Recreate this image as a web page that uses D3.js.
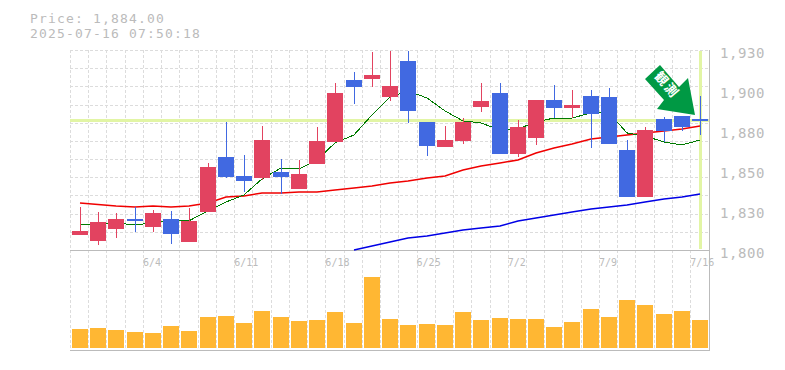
<!DOCTYPE html>
<html>
<head>
<meta charset="utf-8">
<script src="https://cdn.jsdelivr.net/npm/d3@7"></script>
<style>
body { margin: 0; background: #fff; }
svg { display: block; }
text { font-family: "DejaVu Sans Mono", monospace; fill: #bbb; }
</style>
</head>
<body>
<div id="chart-area"></div>
<script>
// Data
var titleLines = ["Price: 1,884.00", "2025-07-16 07:50:18"];
var lastPrice = 1884;
var dates = ["5/29","5/30","6/2","6/3","6/4","6/5","6/6","6/9","6/10","6/11","6/12","6/13","6/16","6/17","6/18","6/19","6/20",
    "6/23","6/24","6/25","6/26","6/27","6/30","7/1","7/2","7/3","7/4","7/7","7/8","7/9","7/10","7/11","7/14","7/15","7/16"];
var dateTicks = ["6/4","6/11","6/18","6/25","7/2","7/9","7/16"];
var priceTicks = [1930,1904,1878,1852,1826,1800];
var priceLabels = ["1,930","1,900","1,880","1,850","1,830","1,800"];

var open = [1809.8,1805.9,1813.7,1820.2,1815.0,1820.2,1805.2,1824.7,1860.5,1848.1,1846.8,1850.7,1839.7,1855.9,1870.2,1910.5,1911.2,
    1899.5,1922.9,1883.2,1867.0,1870.9,1893.0,1902.1,1862.4,1872.8,1897.5,1892.3,1900.1,1899.5,1865.0,1834.5,1885.2,1887.1,1885.2];
var high = [1828.0,1824.7,1824.1,1828.0,1826.0,1825.4,1827.3,1856.6,1883.2,1861.8,1880.6,1859.2,1858.5,1880.0,1908.6,1915.7,1928.7,
    1929.4,1929.4,1883.2,1880.6,1885.8,1908.6,1908.6,1884.5,1897.5,1907.3,1904.0,1904.0,1905.3,1871.5,1880.0,1886.5,1887.1,1900.1];
var low = [1809.8,1803.3,1807.8,1811.7,1811.7,1803.9,1805.2,1824.7,1846.8,1837.7,1845.5,1836.4,1839.7,1855.9,1870.2,1894.9,1906.0,
    1896.9,1882.6,1861.1,1867.0,1868.9,1889.7,1862.4,1860.5,1868.3,1885.8,1885.8,1866.3,1868.9,1834.5,1834.5,1870.2,1877.4,1874.8];
var close = [1812.4,1818.2,1820.2,1818.9,1824.1,1810.4,1818.9,1854.0,1847.5,1844.9,1871.5,1847.5,1849.4,1870.9,1902.1,1906.0,1913.8,
    1906.6,1890.4,1867.6,1871.5,1883.2,1896.9,1862.4,1880.0,1897.5,1892.3,1894.3,1888.4,1868.9,1834.5,1878.0,1877.4,1880.0,1883.9];
var volume = [19,20,18,16,15,22,17,31,32,25,37,31,27,28,36,25,71,29,23,24,23,36,28,30,29,29,21,26,39,31,48,43,34,37,28];

// moving averages
var maShort = [1816.3,1816.9,1817.6,1816.3,1817.6,1819.5,1819.0,1825.4,1831.2,1835.8,1846.2,1853.3,1852.7,1858.5,1869.6,1874.8,1887.8,
    1899.5,1903.4,1898.8,1890.4,1883.9,1882.6,1878.0,1878.7,1883.2,1885.8,1885.8,1889.1,1889.1,1876.1,1874.1,1870.2,1868.3,1871.5];
var maMid = [1830.6,1829.6,1828.6,1828.0,1828.6,1828.0,1828.6,1830.6,1834.5,1835.1,1837.1,1837.1,1837.7,1837.7,1839.0,1840.3,1841.6,
    1843.6,1844.9,1846.8,1848.1,1852.0,1854.6,1856.6,1858.5,1863.0,1866.3,1868.9,1872.2,1873.5,1874.8,1876.1,1877.4,1878.7,1880.6];
var maLong = [null,null,null,null,null,null,null,null,null,null,null,null,null,null,null,1800.0,1802.6,
    1805.2,1807.8,1809.1,1811.1,1813.0,1814.3,1815.6,1818.9,1820.8,1822.8,1824.7,1826.7,1828.0,1829.3,1831.2,1833.2,1834.5,1836.4];

var W = 785, H = 370;
var left = 70, right = 710, priceTop = 50, priceBottom = 250, volBottom = 350;

var svg = d3.select("#chart-area").append("svg")
    .attr("width", W)
    .attr("height", H);

// Scales
var x = d3.scaleBand().domain(dates).range([left, 708.4]);
var y = d3.scaleLinear().domain([1800, 1930]).range([priceBottom, priceTop]);
var yVol = d3.scaleLinear().domain([0, 100]).range([348, 248]);
var gridY = d3.scaleLinear().domain([0, 11]).range([priceTop, priceBottom]);

function px(d) { return Math.round(x(d)); }

// Grid
var grid = svg.append("g")
    .attr("stroke", "#dcdcdc")
    .attr("stroke-dasharray", "3,2")
    .attr("shape-rendering", "crispEdges");
grid.selectAll(".v").data(dates).enter().append("line")
    .attr("x1", function(d){ return px(d) + 0.5; })
    .attr("x2", function(d){ return px(d) + 0.5; })
    .attr("y1", priceTop)
    .attr("y2", volBottom);
grid.selectAll(".h").data(d3.range(0, 11)).enter().append("line")
    .attr("x1", left)
    .attr("x2", right)
    .attr("y1", function(d){ return Math.round(gridY(d)) + 0.5; })
    .attr("y2", function(d){ return Math.round(gridY(d)) + 0.5; });

// Current price and date highlight
var hl = svg.append("g").attr("fill", "#e2f5a5");
hl.append("rect")
    .attr("x", left)
    .attr("width", right - left - 1)
    .attr("y", Math.round(y(lastPrice)) - 2)
    .attr("height", 3);
hl.append("rect")
    .attr("x", px(dates[34]) + 9)
    .attr("width", 3)
    .attr("y", priceTop + 1)
    .attr("height", priceBottom - priceTop - 2);

// Frame
var frame = svg.append("g").attr("stroke", "#bbb").attr("shape-rendering", "crispEdges");
frame.append("line").attr("x1", left).attr("x2", right).attr("y1", priceBottom + 0.5).attr("y2", priceBottom + 0.5);
frame.append("line").attr("x1", left).attr("x2", right).attr("y1", volBottom + 0.5).attr("y2", volBottom + 0.5);
frame.append("line").attr("x1", right - 0.5).attr("x2", right - 0.5).attr("y1", priceTop).attr("y2", volBottom);

// Moving averages
function drawLine(values, color, width, rendering) {
    var line = d3.line()
        .defined(function(d){ return d !== null; })
        .x(function(d, i){ return px(dates[i]) + 10; })
        .y(function(d){ return y(d); });
    svg.append("path")
        .attr("d", line(values))
        .attr("fill", "none")
        .attr("stroke", color)
        .attr("stroke-width", width)
        .attr("shape-rendering", rendering);
}
drawLine(maLong, "#0000e6", 1.5, "auto");
drawLine(maMid, "#f00000", 1.5, "auto");
drawLine(maShort, "#007a00", 1, "crispEdges");

// Candles
var upColor = "#e24360", downColor = "#4169e1";
function candleColor(i) { return close[i] > open[i] ? upColor : downColor; }

var candles = svg.append("g").attr("shape-rendering", "crispEdges");
candles.selectAll(".wick").data(dates).enter().append("rect")
    .attr("x", function(d){ return px(d) + 10; })
    .attr("width", 1)
    .attr("y", function(d, i){ return y(high[i]); })
    .attr("height", function(d, i){ return y(low[i]) - y(high[i]); })
    .attr("fill", function(d, i){ return candleColor(i); });
candles.selectAll(".body").data(dates).enter().append("rect")
    .attr("x", function(d){ return px(d) + 2; })
    .attr("width", 16)
    .attr("y", function(d, i){ return y(Math.max(open[i], close[i])); })
    .attr("height", function(d, i){ return Math.abs(y(open[i]) - y(close[i])); })
    .attr("fill", function(d, i){ return candleColor(i); });

// Volume
svg.append("g").attr("shape-rendering", "crispEdges")
    .selectAll("rect").data(volume).enter().append("rect")
    .attr("x", function(d, i){ return px(dates[i]) + 2; })
    .attr("width", 16)
    .attr("y", function(d){ return yVol(d); })
    .attr("height", function(d){ return yVol(0) - yVol(d); })
    .attr("fill", "#ffb733");

// Axes
var yAxis = d3.axisRight(y)
    .tickValues(priceTicks)
    .tickSize(0)
    .tickPadding(10)
    .tickFormat(function(d, i){ return priceLabels[i]; });
var yG = svg.append("g").attr("transform", "translate(" + right + ",0)").call(yAxis);
yG.select(".domain").remove();
yG.selectAll("text")
    .attr("dy", "0.55em")
    .style("font-family", '"DejaVu Sans Mono", monospace')
    .style("font-size", "14px")
    .style("letter-spacing", "0.57px");

var xAxis = d3.axisBottom(x).tickValues(dateTicks).tickSize(0);
var xG = svg.append("g").attr("transform", "translate(0," + priceBottom + ")").call(xAxis);
xG.select(".domain").remove();
xG.selectAll("text")
    .attr("text-anchor", "start")
    .attr("x", -x.bandwidth() / 2)
    .attr("y", 16)
    .attr("dy", 0)
    .style("font-family", '"DejaVu Sans Mono", monospace')
    .style("font-size", "10px");

// Title
svg.selectAll(".title").data(titleLines).enter().append("text")
    .attr("class", "title")
    .attr("x", 30)
    .attr("y", function(d, i){ return 23 + i * 15; })
    .style("font-size", "13px")
    .style("letter-spacing", "1.17px")
    .text(function(d){ return d; });

// Signal arrow, its tip sits just above the last candles
var arrowShape = [[-35,-50],[-50,-36],[-31,-15],[-38,-6],[0,0],[-7,-37],[-16,-28]];
var arrow = svg.append("g")
    .attr("transform", "translate(" + (px(dates[34]) + 5) + "," + Math.round(y(high[33]) - 1) + ")");
arrow.append("path")
    .attr("d", d3.line()(arrowShape) + "Z")
    .attr("fill", "#009944");
arrow.append("text")
    .attr("transform", "translate(-28,-30) rotate(50)")
    .attr("text-anchor", "middle")
    .attr("dy", "0.35em")
    .style("font-family", '"Noto Sans CJK JP"')
    .style("font-weight", "bold")
    .style("font-size", "13px")
    .style("letter-spacing", "2px")
    .style("fill", "#fff")
    .text("観測");
</script>
</body>
</html>
